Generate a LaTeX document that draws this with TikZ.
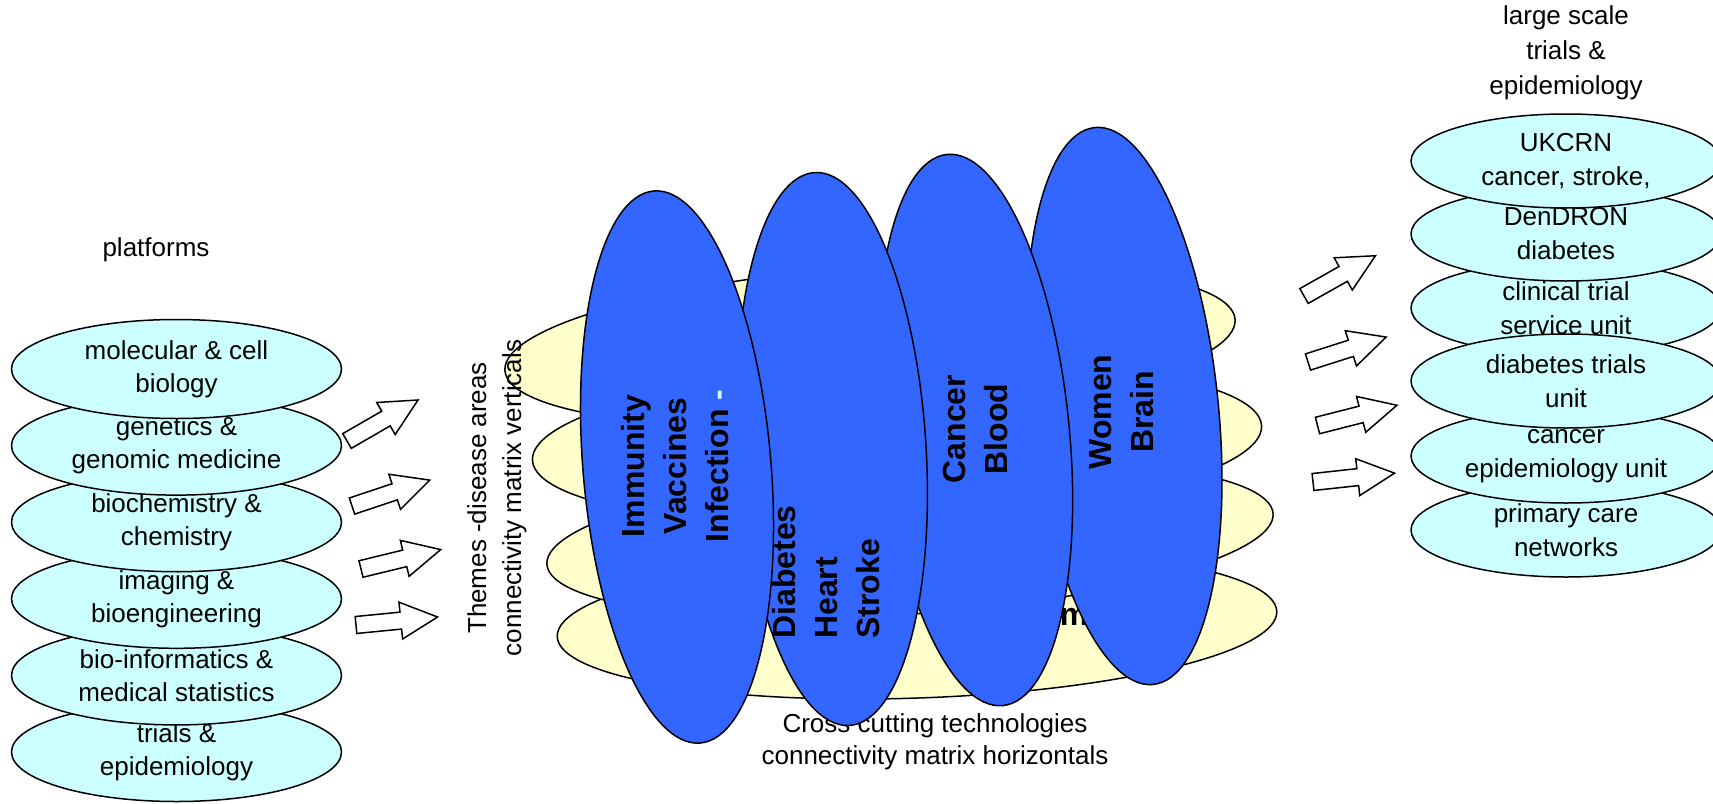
\documentclass[tikz,border=0pt]{standalone}
\usepackage{fontspec}
\setmainfont{Liberation Sans}
\usetikzlibrary{shapes.geometric}
\definecolor{platecyan}{HTML}{CCFFFF}
\definecolor{themeblue}{HTML}{3366FF}
\definecolor{techyellow}{HTML}{FFFFCC}
\begin{document}
\begin{tikzpicture}[x=1pt,y=-1pt,
  every node/.style={inner sep=0pt,outer sep=0pt},
  outline/.style={draw=black,line width=1.5pt},
  plainlabel/.style={font=\fontsize{26}{33}\selectfont,align=center},
  platform/.style={ellipse,outline,fill=platecyan,minimum width=330pt,minimum height=99pt,
    font=\fontsize{26}{33}\selectfont,align=center},
  trialunit/.style={ellipse,outline,fill=platecyan,minimum width=310pt,minimum height=94pt,
    font=\fontsize{26}{34}\selectfont,align=center},
  techband/.style={ellipse,outline,fill=techyellow},
  theme/.style={ellipse,outline,fill=themeblue,minimum width=188pt,minimum height=554pt},
  themetext/.style={rotate=90,font=\bfseries\fontsize{32}{42}\selectfont},
  blockarrow/.pic={\draw[outline,fill=white,line join=miter]
    (0,-8.5) -- (45,-8.5) -- (45,-18.5) -- (82,0) -- (45,18.5) -- (45,8.5) -- (0,8.5) -- cycle;}
]
\useasboundingbox (0,0) rectangle (1713,803);
\clip (0,0) rectangle (1713,803);

% platforms column (upper ellipses overlap the lower ones)
\node[plainlabel] (platforms) at (156,250) {platforms};
\node[platform] (p6) at (176.5,752)   {trials \&\\epidemiology};
\node[platform] (p5) at (176.5,675.4) {bio-informatics \&\\medical statistics};
\node[platform] (p4) at (176.5,598.8) {imaging \&\\bioengineering};
\node[platform] (p3) at (176.5,522.2) {biochemistry \&\\chemistry};
\node[platform] (p2) at (176.5,445.6) {genetics \&\\genomic medicine};
\node[platform] (p1) at (176.5,369)   {molecular \& cell\\biology};

% block arrows from the platforms
\pic[rotate=30]   at (347,441)   {blockarrow};
\pic[rotate=18.4] at (352,506)   {blockarrow};
\pic[rotate=13.7] at (361,569)   {blockarrow};
\pic[rotate=5.6]  at (356,625)   {blockarrow};

% cross cutting technologies (horizontal bands)
\node[techband,minimum width=732pt,minimum height=156pt,rotate=4]   (band1) at (870,345) {};
\node[techband,minimum width=730pt,minimum height=160pt,rotate=2.7] (band2) at (897,443) {};
\node[techband,minimum width=720pt,minimum height=148pt,rotate=2]   (band4) at (917,624) {};
\node[techband,minimum width=728pt,minimum height=150pt,rotate=4]   (band3) at (910,539) {};
\node[anchor=base,font=\bfseries\fontsize{32}{38}\selectfont] (bandword) at (1074,625) {m};

\node[plainlabel,font=\fontsize{26}{32}\selectfont] (horizontals) at (935,742)
  {Cross cutting technologies\\connectivity matrix horizontals};

% disease themes (vertical ellipses)
\node[theme,rotate=6,minimum height=560pt] (theme4) at (1124,406) {};
\node[theme,rotate=5.8] (theme3) at (975,430)  {};
\node[theme,rotate=3.6] (theme2) at (832,449)  {};
\node[theme,rotate=4.8] (theme1) at (677,467)  {};

\node[themetext,align=center] (t1) at (675,466)
  {Immunity\\Vaccines\\Infection {\color{platecyan}-}};
\node[themetext,align=left]   (t2) at (826,572) {Diabetes\\Heart\\Stroke};
\node[themetext,align=center] (t3) at (975,429) {Cancer\\Blood};
\node[themetext,align=center] (t4) at (1122,412) {Women\\Brain};

\node[plainlabel,rotate=90,font=\fontsize{26}{35}\selectfont] (verticals) at (497,498)
  {Themes -disease areas\\connectivity matrix verticals};

% block arrows towards the trial units
\pic[rotate=29.4] at (1304,296)   {blockarrow};
\pic[rotate=17.7] at (1308,362)   {blockarrow};
\pic[rotate=14.3] at (1317.5,425.5) {blockarrow};
\pic[rotate=6.2]  at (1313,482)   {blockarrow};

% large scale trials column
\node[plainlabel,font=\fontsize{26}{35}\selectfont] (largescale) at (1566,53)
  {large scale\\trials \&\\epidemiology};
\node[trialunit] (u6) at (1566,530) {primary care\\networks};
\node[trialunit] (u5) at (1566,456) {cancer\\epidemiology unit};
\node[trialunit] (u3) at (1566,308) {clinical trial\\service unit};
\node[trialunit] (u4) at (1566,381) {diabetes trials\\unit};
\node[trialunit] (u2) at (1566,234) {DenDRON\\diabetes};
\node[trialunit] (u1) at (1566,161) {UKCRN\\cancer, stroke,};
\end{tikzpicture}
\end{document}
